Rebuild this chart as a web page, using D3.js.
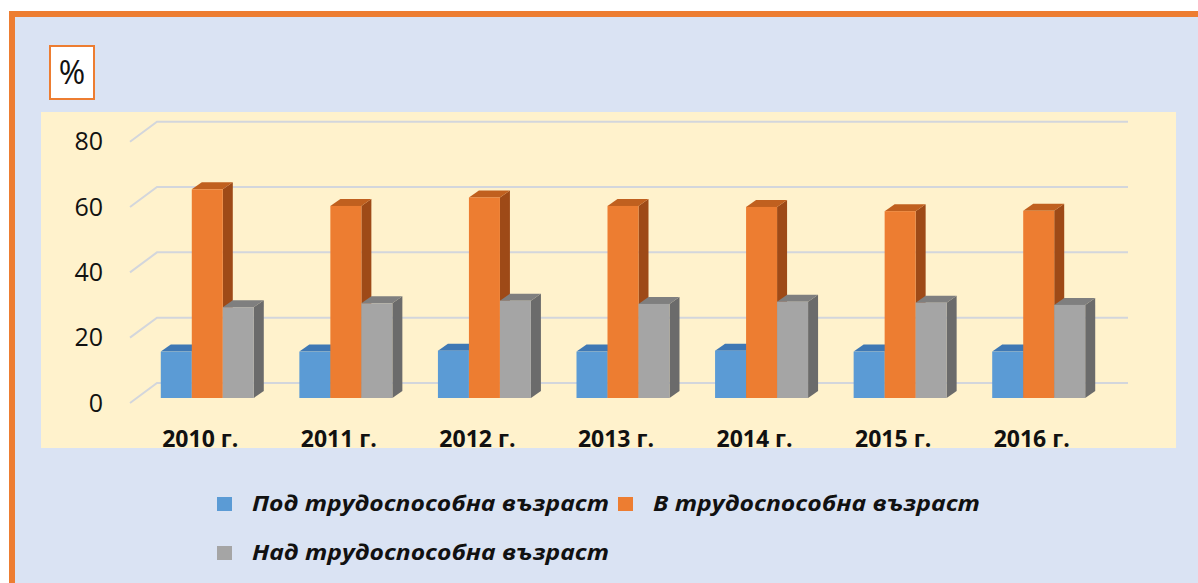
<!DOCTYPE html>
<html lang="bg">
<head>
<meta charset="utf-8">
<script src="https://cdn.jsdelivr.net/npm/d3@7"></script>
<style>
  html, body { margin: 0; padding: 0; background: #fff; }
  svg { display: block; font-family: "Open Sans", "Noto Sans", sans-serif; }
</style>
</head>
<body>
<script>
// Data
const years = ["2010 г.", "2011 г.", "2012 г.", "2013 г.", "2014 г.", "2015 г.", "2016 г."];
const seriesNames = ["Под трудоспособна възраст", "В трудоспособна възраст", "Над трудоспособна възраст"];
const underWorking = [14.2, 14.2, 14.5, 14.2, 14.5, 14.2, 14.2];
const working = [63.9, 58.8, 61.4, 58.8, 58.5, 57.2, 57.3];
const overWorking = [27.8, 29.0, 29.8, 28.8, 29.5, 29.2, 28.5];
const yTicks = [0, 20, 40, 60, 80];

const seriesValues = [underWorking, working, overWorking];
const colors = [
  { front: "#5B9BD5", top: "#3F78B4", side: "#3A6E9F" },
  { front: "#ED7D31", top: "#C0601F", side: "#9E4A17" },
  { front: "#A5A5A5", top: "#7F7F7F", side: "#6B6B6B" }
];

const width = 1198;
const height = 583;

// 3D floor geometry: the depth vector of the whole floor and of a bar
const depth = { dx: 27, dy: -20 };
const barShift = { dx: 7, dy: -5 };
const barDepth = { dx: 10, dy: -7 };

const svg = d3.select("body").append("svg")
  .attr("width", width)
  .attr("height", height);

// frame
svg.append("rect").attr("x", 9).attr("y", 11).attr("width", width).attr("height", height)
  .attr("fill", "#ED7D31");
svg.append("rect").attr("x", 15).attr("y", 17).attr("width", width).attr("height", height)
  .attr("fill", "#DAE3F3");

// % box
svg.append("rect").attr("x", 50).attr("y", 46).attr("width", 44).attr("height", 53)
  .attr("fill", "#fff").attr("stroke", "#ED7D31").attr("stroke-width", 2);
svg.append("text").attr("x", 72).attr("y", 84).attr("text-anchor", "middle")
  .attr("font-size", 32).attr("fill", "#111").text("%");

// plot area
svg.append("rect").attr("x", 41).attr("y", 112).attr("width", 1135).attr("height", 336)
  .attr("fill", "#FFF2CC");

const x = d3.scaleBand().domain(years).range([131, 1101]);
const yFront = d3.scaleLinear().domain([0, 80]).range([403, 141.7]);
const inner = d3.scaleBand().domain(d3.range(3)).range([0, 93]);

// gridlines: left-wall diagonal then back wall horizontal
const grid = svg.append("g");
yTicks.forEach(t => {
  const y0 = yFront(t);
  grid.append("path")
    .attr("d", `M${x.range()[0] - 1},${y0} L${x.range()[0] - 1 + depth.dx},${y0 + depth.dy} H${x.range()[1] + depth.dx}`)
    .attr("fill", "none").attr("stroke", "#D3D6DC").attr("stroke-width", 2);
});

// y tick labels
svg.append("g").selectAll("text").data(yTicks).join("text")
  .attr("x", 103).attr("y", d => yFront(d) + 2)
  .attr("text-anchor", "end").attr("dominant-baseline", "middle")
  .attr("font-size", 25).attr("fill", "#111")
  .text(d => d);

// bars
const bars = svg.append("g");
years.forEach((yr, i) => {
  const gx = x(yr) + (x.bandwidth() - 93) / 2 + barShift.dx;
  seriesValues.forEach((vals, s) => {
    const c = colors[s];
    const x0 = gx + inner(s);
    const x1 = x0 + inner.bandwidth();
    const yb = yFront(0) + barShift.dy;
    const yt = yFront(vals[i]) + barShift.dy;
    const g = bars.append("g");
    g.append("path")
      .attr("d", `M${x1},${yt} L${x1 + barDepth.dx},${yt + barDepth.dy} L${x1 + barDepth.dx},${yb + barDepth.dy} L${x1},${yb} Z`)
      .attr("fill", c.side);
    g.append("path")
      .attr("d", `M${x0},${yt} L${x0 + barDepth.dx},${yt + barDepth.dy} L${x1 + barDepth.dx},${yt + barDepth.dy} L${x1},${yt} Z`)
      .attr("fill", c.top);
    g.append("rect")
      .attr("x", x0).attr("y", yt).attr("width", x1 - x0).attr("height", yb - yt)
      .attr("fill", c.front);
  });
});

// x labels
svg.append("g").selectAll("text").data(years).join("text")
  .attr("x", d => x(d) + x.bandwidth() / 2)
  .attr("y", 447)
  .attr("text-anchor", "middle")
  .attr("font-size", 23).attr("font-weight", "bold").attr("fill", "#111")
  .text(d => d);

// legend
const legendPos = [
  { x: 217, y: 504, w: 357 },
  { x: 618, y: 504, w: 327 },
  { x: 217, y: 553, w: 357 }
];
const legend = svg.append("g").selectAll("g").data(seriesNames).join("g")
  .attr("transform", (d, i) => `translate(${legendPos[i].x},${legendPos[i].y})`);
legend.append("rect").attr("x", 0).attr("y", -7).attr("width", 15).attr("height", 14)
  .attr("fill", (d, i) => colors[i].front);
legend.append("text").attr("x", 35).attr("y", 1)
  .attr("dominant-baseline", "middle")
  .attr("font-size", 22).attr("font-weight", "bold").attr("font-style", "italic")
  .attr("fill", "#111")
  .attr("textLength", (d, i) => legendPos[i].w)
  .attr("lengthAdjust", "spacingAndGlyphs")
  .text(d => d);
</script>
</body>
</html>
